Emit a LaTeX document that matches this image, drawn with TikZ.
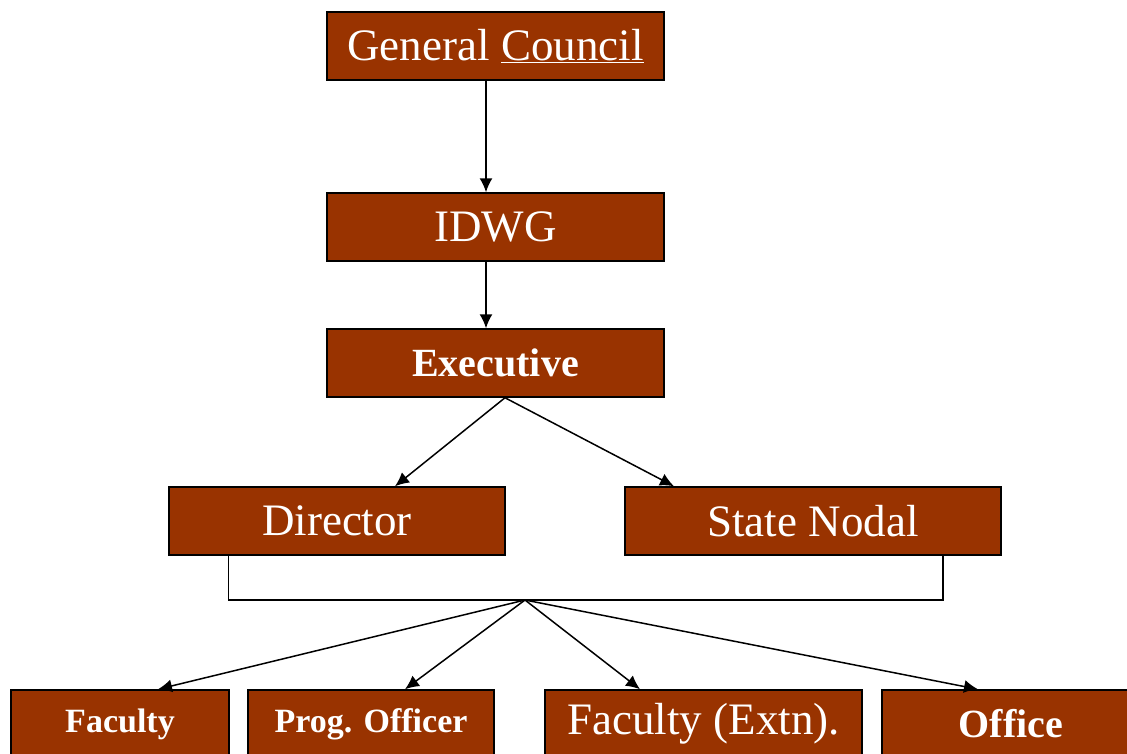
\documentclass[tikz,border=0pt]{standalone}
\usepackage{fontspec}
\setmainfont{Liberation Serif}
\usetikzlibrary{arrows.meta}
\definecolor{rust}{RGB}{153,51,0}

\begin{document}
\begin{tikzpicture}[x=1pt, y=-1pt, line width=1.5pt,
  >={Latex[length=14pt,width=13pt]},
  box/.style={draw=black, fill=rust, text=white, minimum height=68pt, inner sep=0pt},
  big/.style={font=\fontsize{45}{50}\selectfont},
  mid/.style={font=\fontsize{40}{46}\selectfont\bfseries},
  small/.style={font=\fontsize{34}{40}\selectfont\bfseries}]

\clip (0,0) rectangle (1127,753);

\node[box, big, minimum width=337pt] (gc) at (495.5,46) {General \underline{Council}};
\node[box, big, minimum width=337pt] (idwg) at (495.5,227) {IDWG};
\node[box, mid, minimum width=337pt] (exec) at (495.5,363) {Executive};
\node[box, big, minimum width=336pt] (dir) at (337,521) {Director};
\node[box, big, minimum width=376pt] (sn) at (813,521) {State Nodal};
\node[box, small, minimum width=218pt] (fac) at (120,724) {Faculty};
\node[box, small, minimum width=246pt] (prog) at (371,724) {Prog. Officer};
\node[box, big, minimum width=317pt] (facx) at (703.5,724) {Faculty (Extn).};
\node[box, mid, minimum width=258pt] (off) at (1011,724) {Office};

\draw[->] ([xshift=-9.5pt]gc.south) -- ([xshift=-9.5pt]idwg.north);
\draw[->] ([xshift=-9.5pt]idwg.south) -- ([xshift=-9.5pt]exec.north);

\coordinate (ex) at ([xshift=9.5pt]exec.south);
\draw[->] (ex) -- ([xshift=58pt]dir.north);
\draw[->] (ex) -- ([xshift=-139pt]sn.north);

\coordinate (jn) at (525,600);
\draw ([xshift=60pt]dir.south west) |- (jn) -| ([xshift=-59pt]sn.south east);

\draw[->] (jn) -- ([xshift=38pt]fac.north);
\draw[->] (jn) -- ([xshift=34pt]prog.north);
\draw[->] (jn) -- ([xshift=-63.5pt]facx.north);
\draw[->] (jn) -- ([xshift=-33pt]off.north);

\end{tikzpicture}
\end{document}
